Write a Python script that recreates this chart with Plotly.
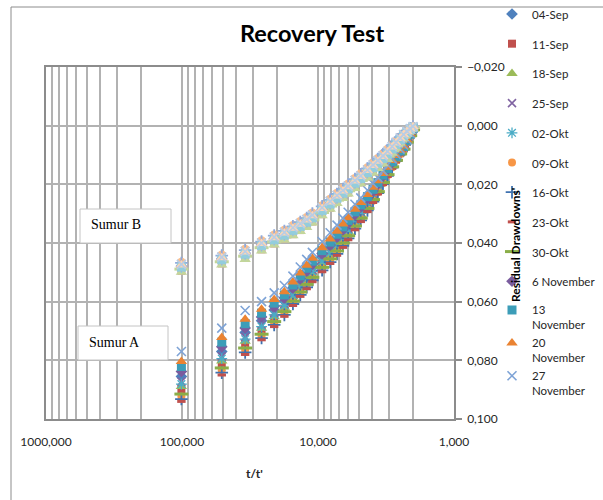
import plotly.graph_objects as go

# ---------------- data ----------------
# t/t' (same time steps for every measurement day)
t_ratio = [101, 51, 34.33, 26, 21, 17.67, 15.29, 13.5, 12.11, 11, 9.33, 8.14, 7.25, 6.56, 6,
           5.35, 4.85, 4.33, 3.94, 3.63, 3.33, 3.08, 2.85, 2.67, 2.49, 2.35, 2.22, 2.10, 2.0]

dates = ["04-Sep", "11-Sep", "18-Sep", "25-Sep", "02-Okt", "09-Okt", "16-Okt", "23-Okt",
         "30-Okt", "6 November", "13<br>November", "20<br>November", "27<br>November"]

# Sumur A residual drawdown s' (mm)
sa_04sep = [85.5, 77.0, 70.5, 66.5, 62.8, 59.8, 56.3, 53.2, 50.6, 48.2, 44.7, 41.8, 39.1, 36.5, 34.2, 31.2, 28.7, 25.7, 23.0, 20.5, 17.8, 15.4, 12.9, 11.0, 9.0, 7.4, 5.2, 3.1, 1.2]
sa_11sep = [89.8, 81.0, 74.3, 69.8, 65.6, 62.4, 58.8, 55.7, 53.1, 50.7, 47.2, 44.4, 41.6, 39.0, 36.6, 33.3, 30.7, 27.5, 24.6, 21.9, 18.9, 16.3, 13.7, 11.6, 9.4, 7.8, 5.5, 3.3, 1.3]
sa_18sep = [88.9, 80.2, 73.5, 69.1, 65.1, 61.9, 58.3, 55.2, 52.6, 50.2, 46.7, 43.9, 41.1, 38.5, 36.1, 32.9, 30.3, 27.1, 24.3, 21.6, 18.7, 16.1, 13.5, 11.5, 9.3, 7.7, 5.4, 3.2, 1.3]
sa_25sep = [87.2, 78.6, 72.0, 67.8, 63.9, 60.8, 57.3, 54.2, 51.6, 49.2, 45.7, 42.8, 40.1, 37.5, 35.1, 32.0, 29.5, 26.4, 23.6, 21.1, 18.2, 15.7, 13.2, 11.2, 9.1, 7.6, 5.3, 3.1, 1.2]
sa_02okt = [88.1, 79.4, 72.8, 68.5, 64.5, 61.3, 57.8, 54.7, 52.1, 49.7, 46.2, 43.3, 40.6, 38.0, 35.6, 32.5, 29.9, 26.7, 23.9, 21.3, 18.5, 15.9, 13.4, 11.3, 9.2, 7.6, 5.4, 3.2, 1.3]
sa_09okt = [92.3, 83.4, 76.5, 71.7, 67.4, 64.0, 60.3, 57.2, 54.6, 52.2, 48.8, 46.0, 43.2, 40.5, 38.0, 34.6, 31.9, 28.6, 25.6, 22.7, 19.6, 16.9, 14.2, 12.0, 9.7, 8.0, 5.6, 3.4, 1.4]
sa_16okt = [93.2, 84.2, 77.3, 72.4, 67.9, 64.5, 60.8, 57.7, 55.1, 52.7, 49.3, 46.5, 43.7, 41.0, 38.4, 35.1, 32.3, 28.9, 25.9, 23.0, 19.9, 17.1, 14.3, 12.1, 9.8, 8.1, 5.7, 3.5, 1.5]
sa_23okt = [94.0, 85.0, 78.0, 73.0, 68.5, 65.0, 61.3, 58.2, 55.6, 53.2, 49.8, 47.0, 44.2, 41.5, 38.9, 35.5, 32.7, 29.3, 26.2, 23.3, 20.1, 17.3, 14.5, 12.2, 9.9, 8.2, 5.7, 3.5, 1.5]
sa_30okt = [91.5, 82.6, 75.8, 71.1, 66.8, 63.4, 59.8, 56.7, 54.1, 51.7, 48.3, 45.4, 42.7, 40.0, 37.5, 34.2, 31.5, 28.2, 25.2, 22.5, 19.4, 16.7, 14.0, 11.8, 9.6, 8.0, 5.6, 3.4, 1.4]
sa_06nov = [83.8, 75.4, 69.0, 65.2, 61.6, 58.7, 55.3, 52.2, 49.6, 47.2, 43.6, 40.7, 38.0, 35.5, 33.3, 30.3, 27.8, 24.9, 22.3, 19.9, 17.3, 15.0, 12.6, 10.7, 8.8, 7.2, 5.1, 3.0, 1.1]
sa_13nov = [82.1, 73.8, 67.5, 63.9, 60.5, 57.7, 54.3, 51.2, 48.6, 46.2, 42.6, 39.7, 37.0, 34.5, 32.3, 29.4, 27.0, 24.2, 21.7, 19.4, 16.8, 14.6, 12.3, 10.5, 8.6, 7.1, 5.0, 2.9, 1.0]
sa_20nov = [80.4, 72.2, 66.0, 62.6, 59.3, 56.6, 53.3, 50.2, 47.6, 45.2, 41.6, 38.6, 36.0, 33.5, 31.4, 28.5, 26.2, 23.5, 21.0, 18.8, 16.3, 14.2, 11.9, 10.2, 8.4, 6.9, 4.9, 2.8, 0.9]
sa_27nov = [77.0, 69.0, 63.0, 60.0, 57.0, 54.5, 51.3, 48.2, 45.6, 43.2, 39.5, 36.5, 33.9, 31.5, 29.5, 26.8, 24.6, 22.0, 19.7, 17.7, 15.4, 13.4, 11.3, 9.7, 8.0, 6.6, 4.7, 2.6, 0.8]

# Sumur B residual drawdown s' (mm)
sb_04sep = [47.8, 45.3, 43.4, 40.5, 38.5, 36.9, 35.3, 33.9, 32.5, 31.0, 28.5, 26.3, 24.3, 22.6, 21.1, 19.2, 17.6, 15.6, 13.9, 12.4, 10.8, 9.3, 7.6, 6.1, 4.6, 3.3, 2.2, 1.2, 0.4]
sb_11sep = [49.5, 47.0, 45.1, 42.2, 40.2, 38.6, 37.0, 35.6, 34.2, 32.7, 30.2, 28.0, 26.0, 24.3, 22.8, 20.9, 19.3, 17.3, 15.6, 14.1, 12.5, 11.0, 9.0, 7.3, 5.6, 4.1, 2.8, 1.7, 0.7]
sb_18sep = [50.0, 47.5, 45.6, 42.7, 40.7, 39.1, 37.5, 36.1, 34.7, 33.2, 30.7, 28.5, 26.5, 24.8, 23.3, 21.4, 19.8, 17.8, 16.1, 14.6, 13.0, 11.5, 9.4, 7.7, 5.9, 4.4, 3.0, 1.8, 0.8]
sb_25sep = [47.1, 44.6, 42.7, 39.8, 37.8, 36.2, 34.6, 33.2, 31.8, 30.3, 27.8, 25.6, 23.6, 21.9, 20.4, 18.5, 16.9, 14.9, 13.2, 11.7, 10.1, 8.6, 7.0, 5.6, 4.1, 3.0, 1.9, 1.0, 0.3]
sb_02okt = [48.4, 45.9, 44.0, 41.1, 39.1, 37.5, 35.9, 34.5, 33.1, 31.6, 29.1, 26.9, 24.9, 23.2, 21.7, 19.8, 18.2, 16.2, 14.5, 13.0, 11.4, 9.9, 8.1, 6.5, 4.9, 3.6, 2.4, 1.4, 0.5]
sb_09okt = [46.4, 43.9, 42.0, 39.1, 37.1, 35.5, 33.9, 32.5, 31.1, 29.6, 27.1, 24.9, 22.9, 21.2, 19.7, 17.8, 16.2, 14.2, 12.5, 11.0, 9.4, 7.9, 6.4, 5.1, 3.7, 2.6, 1.6, 0.8, 0.2]
sb_16okt = [46.8, 44.3, 42.4, 39.5, 37.5, 35.9, 34.3, 32.9, 31.5, 30.0, 27.5, 25.3, 23.3, 21.6, 20.1, 18.2, 16.6, 14.6, 12.9, 11.4, 9.8, 8.3, 6.7, 5.4, 3.9, 2.8, 1.7, 0.9, 0.3]
sb_23okt = [48.6, 46.1, 44.2, 41.3, 39.3, 37.7, 36.1, 34.7, 33.3, 31.8, 29.3, 27.1, 25.1, 23.4, 21.9, 20.0, 18.4, 16.4, 14.7, 13.2, 11.6, 10.1, 8.2, 6.7, 5.0, 3.7, 2.4, 1.4, 0.6]
sb_30okt = [48.9, 46.4, 44.5, 41.6, 39.6, 38.0, 36.4, 35.0, 33.6, 32.1, 29.6, 27.4, 25.4, 23.7, 22.2, 20.3, 18.7, 16.7, 15.0, 13.5, 11.9, 10.4, 8.5, 6.9, 5.2, 3.9, 2.6, 1.5, 0.6]
sb_06nov = [48.0, 45.5, 43.6, 40.7, 38.7, 37.1, 35.5, 34.1, 32.7, 31.2, 28.7, 26.5, 24.5, 22.8, 21.3, 19.4, 17.8, 15.8, 14.1, 12.6, 11.0, 9.5, 7.7, 6.3, 4.7, 3.4, 2.2, 1.2, 0.5]
sb_13nov = [48.2, 45.7, 43.8, 40.9, 38.9, 37.3, 35.7, 34.3, 32.9, 31.4, 28.9, 26.7, 24.7, 23.0, 21.5, 19.6, 18.0, 16.0, 14.3, 12.8, 11.2, 9.7, 7.9, 6.4, 4.8, 3.5, 2.3, 1.3, 0.5]
sb_20nov = [47.5, 45.0, 43.1, 40.2, 38.2, 36.6, 35.0, 33.6, 32.2, 30.7, 28.2, 26.0, 24.0, 22.3, 20.8, 18.9, 17.3, 15.3, 13.6, 12.1, 10.5, 9.0, 7.3, 5.9, 4.4, 3.1, 2.0, 1.1, 0.4]
sb_27nov = [47.3, 44.8, 42.9, 40.0, 38.0, 36.4, 34.8, 33.4, 32.0, 30.5, 28.0, 25.8, 23.8, 22.1, 20.6, 18.7, 17.1, 15.1, 13.4, 11.9, 10.3, 8.8, 7.1, 5.7, 4.2, 3.0, 1.9, 1.0, 0.3]

sumur_a = [sa_04sep, sa_11sep, sa_18sep, sa_25sep, sa_02okt, sa_09okt, sa_16okt,
           sa_23okt, sa_30okt, sa_06nov, sa_13nov, sa_20nov, sa_27nov]
sumur_b = [sb_04sep, sb_11sep, sb_18sep, sb_25sep, sb_02okt, sb_09okt, sb_16okt,
           sb_23okt, sb_30okt, sb_06nov, sb_13nov, sb_20nov, sb_27nov]

# ---------------- styles ----------------
symbols = ["diamond", "square", "triangle-up", "x-thin-open", "asterisk-open", "circle",
           "cross-thin-open", "line-ew-open", "line-ew-open", "diamond", "square",
           "triangle-up", "x-thin-open"]
sizes = [9, 8, 10, 8, 9, 8, 9, 6, 10, 9, 9, 10, 9]
lwidths = [0, 0, 0, 1.6, 1.3, 0, 1.8, 3, 3, 0, 0, 0, 1.6]
colors_a = ["#4F81BD", "#C0504D", "#9BBB59", "#8064A2", "#4BACC6", "#F79646", "#3F72B0",
            "#C0504D", "#8AAE48", "#7A5C9E", "#3C9DB8", "#EA8332", "#7EA3D6"]
colors_b = ["#95B3D7", "#D99694", "#C3D69B", "#B3A2C7", "#93CDDD", "#FAC090", "#8FAADC",
            "#E6B9B8", "#C3D69B", "#B3A2C7", "#93CDDD", "#FCD5B5", "#B9CDE5"]

PL, PR, PT, PB = 46, 454, 67, 419
W, H = 603, 500


def px_x(px):
    return (px - PL) / (PR - PL)


def px_y(py):
    return (PB - py) / (PB - PT)


fig = go.Figure()

for i, vals in enumerate(sumur_a):
    fig.add_trace(go.Scatter(
        x=t_ratio, y=[v / 1000 for v in vals], mode="markers", name=dates[i],
        legendgroup="a%d" % i, legend="legend" if i < 10 else "legend2",
        marker=dict(symbol=symbols[i], size=sizes[i], color=colors_a[i],
                    line=dict(width=lwidths[i], color=colors_a[i])),
    ))

for i, vals in enumerate(sumur_b):
    fig.add_trace(go.Scatter(
        x=t_ratio, y=[v / 1000 for v in vals], mode="markers", name=dates[i],
        showlegend=False,
        marker=dict(symbol=symbols[i], size=sizes[i], color=colors_b[i],
                    line=dict(width=lwidths[i], color=colors_b[i])),
    ))

GRID = "#b2b2b2"
AXC = "#8c8c8c"
TXT = "#262626"
FONT = "Lato"

legend_common = dict(
    xref="container", yref="container", xanchor="left", yanchor="top",
    font=dict(family=FONT, size=11.5, color=TXT), traceorder="grouped",
    bgcolor="rgba(0,0,0,0)", borderwidth=0, valign="top", maxheight=500,
)

fig.update_layout(
    width=W, height=H, autosize=False,
    margin=dict(l=PL, r=W - PR, t=PT, b=H - PB, pad=0, autoexpand=False),
    paper_bgcolor="white", plot_bgcolor="white",
    separators=",.",
    font=dict(family=FONT, size=12, color=TXT),
    xaxis=dict(
        type="log", range=[3, 0], autorange=False,
        tickmode="linear", tick0=0, dtick=1, tickformat=".3f",
        showgrid=True, gridcolor=GRID, gridwidth=1.8,
        minor=dict(dtick="D1", showgrid=True, gridcolor=GRID, gridwidth=1.8, ticks=""),
        showline=True, linecolor=AXC, linewidth=1.5, mirror=True,
        ticks="", ticklabelstandoff=11, zeroline=False,
        tickfont=dict(family=FONT, size=12, color=TXT),
    ),
    yaxis=dict(
        range=[0.1, -0.02], autorange=False, tick0=0, dtick=0.02, tickformat=".3f",
        side="right", showgrid=True, gridcolor=GRID, gridwidth=1.8,
        showline=True, linecolor=AXC, linewidth=1.5, mirror=True,
        ticks="outside", ticklen=6, tickcolor=AXC, tickwidth=1.5,
        ticklabelstandoff=3, zeroline=False,
        tickfont=dict(family=FONT, size=12, color=TXT),
    ),
    legend=dict(x=492 / W, y=1 - 0 / H, tracegroupgap=10.7, **legend_common),
    legend2=dict(x=492 / W, y=1 - 296 / H, tracegroupgap=0, **legend_common),
    shapes=[
        dict(type="rect", xref="paper", yref="paper", x0=px_x(11), y0=px_y(7),
             x1=px_x(640), y1=px_y(540), line=dict(color=AXC, width=1), layer="above"),
        dict(type="rect", xref="paper", yref="paper", x0=px_x(80), y0=px_y(209),
             x1=px_x(171), y1=px_y(243), fillcolor="white",
             line=dict(color="#c4c4c4", width=1), layer="above"),
        dict(type="rect", xref="paper", yref="paper", x0=px_x(78), y0=px_y(326),
             x1=px_x(168), y1=px_y(360), fillcolor="white",
             line=dict(color="#c4c4c4", width=1), layer="above"),
    ],
    annotations=[
        dict(text="<b>Recovery Test</b>", xref="paper", yref="paper", x=px_x(312), y=px_y(33),
             showarrow=False, xanchor="center", yanchor="middle",
             font=dict(family=FONT, size=23.5, color="black")),
        dict(text="<b>t/t'</b>", xref="paper", yref="paper", x=px_x(254), y=px_y(473),
             showarrow=False, xanchor="center", yanchor="middle",
             font=dict(family=FONT, size=12, color=TXT)),
        dict(text="<b>Residual Drawdowns'</b>", xref="paper", yref="paper", x=px_x(516),
             y=px_y(245), textangle=-90, showarrow=False, xanchor="center", yanchor="middle",
             font=dict(family=FONT, size=12, color="black")),
        dict(text="Sumur B", xref="paper", yref="paper", x=px_x(89), y=px_y(224),
             showarrow=False, xanchor="left", yanchor="middle",
             font=dict(family="Liberation Serif", size=14, color="black")),
        dict(text="Sumur A", xref="paper", yref="paper", x=px_x(87), y=px_y(342),
             showarrow=False, xanchor="left", yanchor="middle",
             font=dict(family="Liberation Serif", size=14, color="black")),
    ],
)

fig.write_html(
    "out.html",
    config={"displayModeBar": False},
    post_script="document.body.style.margin='0px';document.body.style.overflow='hidden';",
)
